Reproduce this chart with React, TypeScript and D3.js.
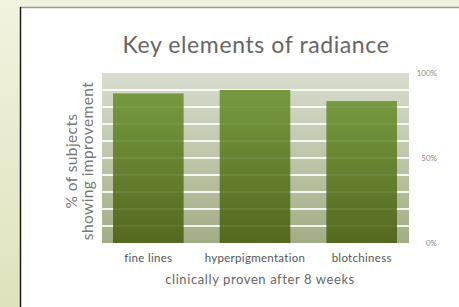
import { scaleBand, scaleLinear } from "d3";

const categories = ["fine lines", "hyperpigmentation", "blotchiness"];
const improvement = [88, 90, 83.5];
const rightTicks = [0, 50, 100];
const stripeLines = [10, 20, 30, 40, 50, 60, 70, 80, 90];

const W = 459,
  H = 307;
const plot = { left: 102, right: 409, top: 73, bottom: 243 };

export default function App() {
  const y = scaleLinear().domain([0, 100]).range([plot.bottom, plot.top]);
  const x = scaleBand<string>()
    .domain(categories)
    .range([113, 397])
    .paddingInner(0.338)
    .paddingOuter(0);
  const font = "'Lato', 'Open Sans', sans-serif";

  return (
    <svg
      width={W}
      height={H}
      style={{ position: "absolute", left: 0, top: 0 }}
      viewBox={`0 0 ${W} ${H}`}
    >
      <defs>
        <linearGradient id="page" x1="0" y1="0" x2="0" y2="1">
          <stop offset="0%" stopColor="#f1f3df" />
          <stop offset="100%" stopColor="#e0e2bd" />
        </linearGradient>
        <linearGradient id="bg" x1="0" y1="0" x2="0" y2="1">
          <stop offset="0%" stopColor="#d8ddcf" />
          <stop offset="100%" stopColor="#a3ad84" />
        </linearGradient>
        <linearGradient id="bar" x1="0" y1="0" x2="0" y2="1">
          <stop offset="0%" stopColor="#76993f" />
          <stop offset="100%" stopColor="#55681f" />
        </linearGradient>
      </defs>
      <rect x={0} y={0} width={W} height={H} fill="url(#page)" />
      <rect x={20} y={7} width={W - 20} height={H - 7} fill="#fff" />
      <line x1={20} x2={W} y1={7.5} y2={7.5} stroke="#9a9a94" strokeWidth={1.5} />
      <line x1={20.5} x2={20.5} y1={7} y2={H} stroke="#1c1c1c" strokeWidth={1.5} />

      <text
        x={256}
        y={53}
        textAnchor="middle"
        fontFamily={font}
        fontSize={23}
        letterSpacing={0.6}
        fill="#666"
      >
        Key elements of radiance
      </text>

      <rect
        x={plot.left}
        y={plot.top}
        width={plot.right - plot.left}
        height={plot.bottom - plot.top}
        fill="url(#bg)"
      />
      {stripeLines.map((v) => (
        <line
          key={v}
          x1={plot.left}
          x2={plot.right}
          y1={y(v)}
          y2={y(v)}
          stroke="#fff"
          strokeOpacity={0.85}
          strokeWidth={2}
        />
      ))}
      {categories.map((c, i) => (
        <rect
          key={c}
          x={x(c)}
          y={y(improvement[i])}
          width={x.bandwidth()}
          height={y(0) - y(improvement[i])}
          fill="url(#bar)"
        />
      ))}
      {stripeLines
        .filter((v) => v < 88)
        .map((v) => (
          <line
            key={"f" + v}
            x1={plot.left}
            x2={plot.right}
            y1={y(v)}
            y2={y(v)}
            stroke="#fff"
            strokeOpacity={0.07}
            strokeWidth={2}
          />
        ))}

      {rightTicks.map((t) => (
        <text
          key={t}
          x={437}
          y={y(t) + 3}
          textAnchor="end"
          fontFamily={font}
          fontSize={8}
          fill="#8a8a8a"
        >
          {t}%
        </text>
      ))}

      {categories.map((c) => (
        <text
          key={c}
          x={(x(c) ?? 0) + x.bandwidth() / 2}
          y={262}
          textAnchor="middle"
          fontFamily={font}
          fontSize={11.5}
          letterSpacing={0.3}
          fill="#555"
        >
          {c}
        </text>
      ))}
      <text
        x={260}
        y={284}
        textAnchor="middle"
        fontFamily={font}
        fontSize={13}
        letterSpacing={0.6}
        fill="#666"
      >
        clinically proven after 8 weeks
      </text>

      <g
        transform="translate(77,161) rotate(-90)"
        fontFamily={font}
        fill="#777"
        textAnchor="middle"
        fontSize={15.5}
        letterSpacing={0.4}
      >
        <text x={0} y={0}>
          % of subjects
        </text>
        <text x={0} y={16}>
          showing improvement
        </text>
      </g>
    </svg>
  );
}
